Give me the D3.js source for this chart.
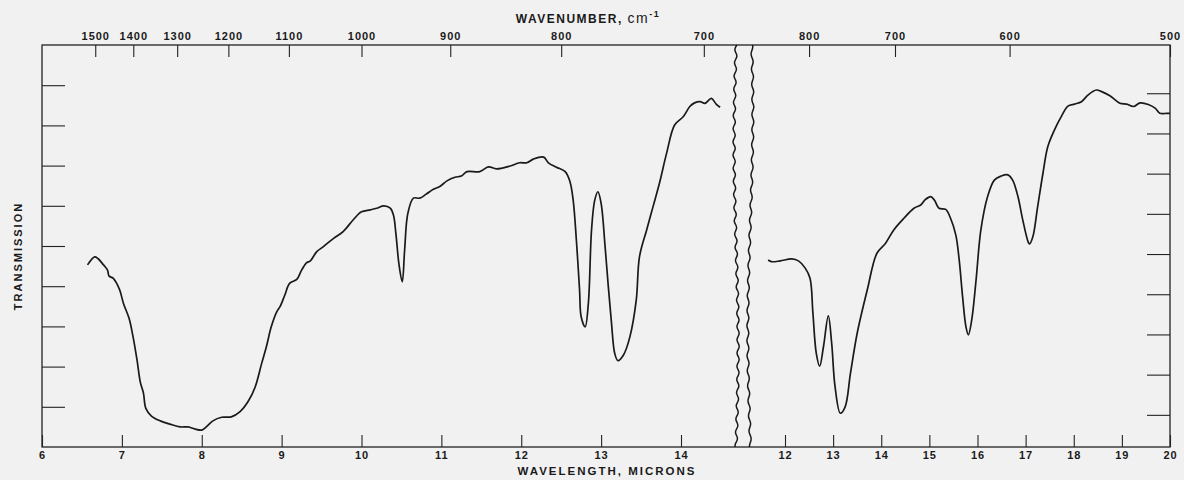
<!DOCTYPE html>
<html>
<head>
<meta charset="utf-8">
<script src="https://cdn.jsdelivr.net/npm/d3@7"></script>
<style>
  body { margin: 0; background: #f1f1f1; }
  svg { display: block; }
  .tick text { font-family: "Liberation Sans", Arial, sans-serif; font-weight: bold; font-size: 11px; fill: #1a1a1a; letter-spacing: 1px; }
  .tick line { stroke: #222; stroke-width: 1.1; }
  .title { font-family: "Liberation Sans", Arial, sans-serif; font-weight: bold; fill: #1a1a1a; }
</style>
</head>
<body>
<svg id="vis" width="1184" height="480"></svg>
<script>
// spectrum, left panel (wavelength in microns, transmission %)
var leftWl = [6.57, 6.66, 6.70, 6.77, 6.82, 6.84, 6.89, 6.97, 7.02, 7.09, 7.14, 7.19, 7.23, 7.27, 7.30,
  7.37, 7.48, 7.60, 7.73, 7.83, 7.91, 8.00, 8.05, 8.14, 8.25, 8.37, 8.48, 8.58, 8.67, 8.75, 8.81,
  8.87, 8.94, 8.98, 9.04, 9.10, 9.19, 9.25, 9.31, 9.36, 9.44, 9.52, 9.65, 9.77, 9.90, 10.00, 10.11,
  10.19, 10.28, 10.36, 10.40, 10.43, 10.47, 10.51, 10.54, 10.58, 10.65, 10.73, 10.81, 10.90, 10.98,
  11.07, 11.17, 11.25, 11.32, 11.48, 11.59, 11.69, 11.86, 11.98, 12.07, 12.15, 12.28, 12.34, 12.44,
  12.55, 12.61, 12.65, 12.69, 12.73, 12.75, 12.80, 12.84, 12.88, 12.92, 12.96, 13.00, 13.05, 13.09,
  13.13, 13.17, 13.21, 13.28, 13.36, 13.44, 13.48, 13.57, 13.65, 13.73, 13.82, 13.92, 14.03, 14.11,
  14.17, 14.24, 14.30, 14.38, 14.44, 14.49];
var leftT = [45.3, 47.3, 46.9, 45.3, 44.0, 42.5, 42.0, 39.2, 35.7, 32.0, 27.4, 21.6, 16.2, 13.4, 9.6,
  7.7, 6.5, 5.7, 5.0, 5.0, 4.5, 4.2, 4.9, 6.5, 7.4, 7.5, 8.8, 11.3, 15.0, 20.8, 25.0,
  29.9, 33.7, 34.9, 37.8, 40.7, 41.7, 44.0, 45.8, 46.3, 48.6, 49.8, 51.9, 53.6, 56.6, 58.5, 59.0,
  59.4, 60.0, 59.4, 57.7, 53.2, 45.3, 41.1, 49.0, 58.1, 61.9, 61.9, 62.9, 64.1, 64.8,
  66.2, 67.1, 67.4, 68.5, 68.5, 69.7, 69.2, 69.9, 70.7, 70.7, 71.6, 72.1, 70.7, 69.6,
  68.5, 66.0, 61.4, 51.5, 39.1, 32.4, 29.9, 35.7, 54.0, 61.4, 63.5, 60.6, 49.8, 39.9,
  30.8, 23.3, 21.5, 22.9, 27.4, 36.6, 47.3, 54.0, 59.8, 65.6, 73.1, 80.1, 82.2, 84.7,
  85.6, 85.9, 85.5, 86.7, 85.3, 84.5];

// spectrum, right panel
var rightWl = [11.65, 11.72, 11.90, 12.14, 12.28, 12.42, 12.52, 12.58, 12.65, 12.72, 12.80, 12.90, 12.97,
  13.04, 13.15, 13.25, 13.36, 13.50, 13.71, 13.91, 14.09, 14.26, 14.47, 14.68, 14.82, 14.92, 15.03,
  15.11, 15.20, 15.34, 15.44, 15.55, 15.62, 15.69, 15.76, 15.81, 15.88, 15.97, 16.07, 16.21, 16.35,
  16.49, 16.63, 16.73, 16.84, 16.94, 17.05, 17.08, 17.15, 17.25, 17.36, 17.46, 17.60, 17.74, 17.88,
  18.02, 18.16, 18.30, 18.47, 18.58, 18.75, 18.96, 19.10, 19.24, 19.38, 19.55, 19.69, 19.79, 19.93, 20.00];
var rightT = [46.5, 46.1, 46.3, 46.8, 46.3, 44.5, 42.0, 33.3, 23.3, 20.1, 25.0, 32.6, 25.8,
  15.0, 8.4, 10.0, 18.3, 28.3, 39.1, 48.2, 50.7, 54.0, 56.9, 59.4, 60.2, 61.6, 62.3,
  61.3, 59.4, 59.1, 56.9, 52.7, 46.5, 37.4, 29.9, 27.9, 31.6, 41.5, 54.0, 62.3, 66.4,
  67.4, 67.7, 66.4, 62.3, 56.5, 51.1, 50.5, 52.3, 59.8, 68.1, 74.7, 78.9, 82.2, 84.8,
  85.3, 85.9, 87.6, 88.8, 88.4, 87.4, 85.5, 85.3, 84.7, 85.6, 85.2, 84.3, 83.0, 83.0, 83.0];

// tick labels
var leftMicrons = [6, 7, 8, 9, 10, 11, 12, 13, 14];
var rightMicrons = [12, 13, 14, 15, 16, 17, 18, 19, 20];
var leftWavenumbers = [1500, 1400, 1300, 1200, 1100, 1000, 900, 800, 700];
var rightWavenumbers = [800, 700, 600, 500];
var leftTransTicks = [10, 20, 30, 40, 50, 60, 70, 80, 90];
var rightTransTicks = [8, 18, 28, 38, 48, 58, 68, 78, 88];
// where the chart paper is cut (left panel micron / right panel micron)
var breakLeft = 14.69, breakRight = 11.28;

var svg = d3.select("#vis");
var frameL = 42, frameR = 1170, frameT = 45, frameB = 447;

var xL = d3.scaleLinear().domain([6, 14]).range([42, 681]);
var xR = d3.scaleLinear().domain([12, 20]).range([785, frameR]);
var y = d3.scaleLinear().domain([0, 100]).range([frameB, frameT]);

// frame
svg.append("rect")
  .attr("x", frameL).attr("y", frameT)
  .attr("width", frameR - frameL).attr("height", frameB - frameT)
  .attr("fill", "none").attr("stroke", "#222").attr("stroke-width", 1.3);

function clean(g) { g.select(".domain").remove(); }

// bottom axes (microns), ticks point inward
svg.append("g").attr("transform", "translate(0," + frameB + ")")
  .call(d3.axisBottom(xL).tickValues(leftMicrons).tickSize(-12).tickPadding(4).tickFormat(d3.format("d")))
  .call(clean);
svg.append("g").attr("transform", "translate(0," + frameB + ")")
  .call(d3.axisBottom(xR).tickValues(rightMicrons).tickSize(-12).tickPadding(4).tickFormat(d3.format("d")))
  .call(clean);

// top axes (wavenumber = 10000 / microns)
svg.append("g").attr("transform", "translate(0," + frameT + ")")
  .call(d3.axisTop(xL).tickValues(leftWavenumbers.map(function (w) { return 1e4 / w; }))
    .tickSize(-12).tickPadding(5).tickFormat(function (d) { return Math.round(1e4 / d); }))
  .call(clean);
svg.append("g").attr("transform", "translate(0," + frameT + ")")
  .call(d3.axisTop(xR).tickValues(rightWavenumbers.map(function (w) { return 1e4 / w; }))
    .tickSize(-12).tickPadding(5).tickFormat(function (d) { return Math.round(1e4 / d); }))
  .call(clean);

// transmission ticks, no labels
svg.append("g").attr("transform", "translate(" + frameL + ",0)")
  .call(d3.axisLeft(y).tickValues(leftTransTicks).tickSize(-23).tickFormat(""))
  .call(clean);
svg.append("g").attr("transform", "translate(" + frameR + ",0)")
  .call(d3.axisRight(y).tickValues(rightTransTicks).tickSize(-23).tickFormat(""))
  .call(clean);

// the spectrum
var lineL = d3.line().x(function (d) { return xL(d[0]); }).y(function (d) { return y(d[1]); })
  .curve(d3.curveCatmullRom.alpha(0.5));
var lineR = d3.line().x(function (d) { return xR(d[0]); }).y(function (d) { return y(d[1]); })
  .curve(d3.curveCatmullRom.alpha(0.5));

svg.append("path").datum(d3.zip(leftWl, leftT))
  .attr("d", lineL).attr("fill", "none").attr("stroke", "#1a1a1a").attr("stroke-width", 1.7);
svg.append("path").datum(d3.zip(rightWl, rightT))
  .attr("d", lineR).attr("fill", "none").attr("stroke", "#1a1a1a").attr("stroke-width", 1.7);

// wavy break lines
var ys = d3.range(frameT, frameB + 1, 3);
var wave = d3.line().curve(d3.curveBasis);
svg.append("path")
  .attr("d", wave(ys.map(function (v) {
    return [xL(breakLeft) + 1.5 * Math.sin(v / 2.1) - 2 * Math.sin((v - frameT) / 64), v];
  })))
  .attr("fill", "none").attr("stroke", "#1a1a1a").attr("stroke-width", 1.5);
svg.append("path")
  .attr("d", wave(ys.map(function (v) {
    return [xR(breakRight) + 1.2 * Math.sin(v / 2.4 + 1) + 2.5 * Math.sin((v - frameT) / 70 + 0.6), v];
  })))
  .attr("fill", "none").attr("stroke", "#1a1a1a").attr("stroke-width", 1.5);

// titles
var t = svg.append("text").attr("class", "title")
  .attr("x", 588).attr("y", 23).attr("text-anchor", "middle")
  .style("font-size", "12px").style("letter-spacing", "1.5px");
t.append("tspan").text("WAVENUMBER, ");
t.append("tspan").style("font-size", "14px").style("font-weight", "normal").text("cm");
t.append("tspan").attr("dy", -6).style("font-size", "9px").text("-1");

svg.append("text").attr("class", "title")
  .attr("x", 607).attr("y", 475).attr("text-anchor", "middle")
  .style("font-size", "11.5px").style("letter-spacing", "2px")
  .text("WAVELENGTH, MICRONS");

svg.append("text").attr("class", "title")
  .attr("transform", "translate(22,256) rotate(-90)").attr("text-anchor", "middle")
  .style("font-size", "11px").style("letter-spacing", "2px")
  .text("TRANSMISSION");
</script>
</body>
</html>
